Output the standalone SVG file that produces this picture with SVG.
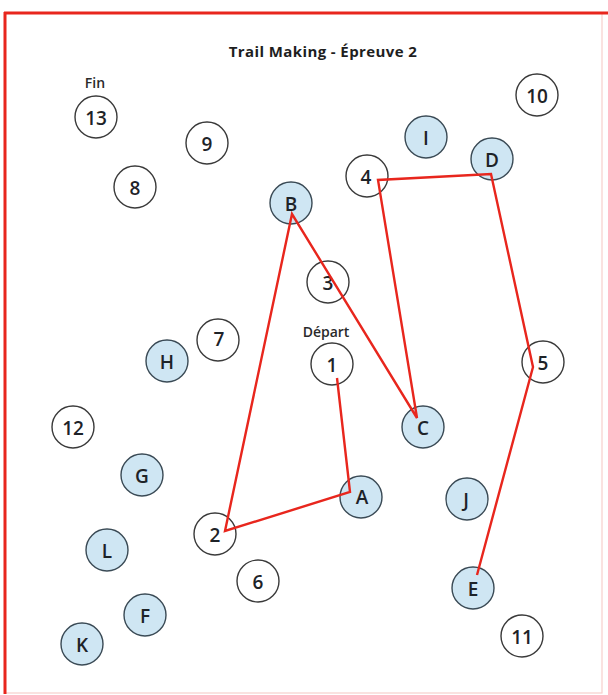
<svg xmlns="http://www.w3.org/2000/svg" width="608" height="695" viewBox="0 0 608 695">
<style>
.n circle{fill:#ffffff;stroke:#3a3a3a;stroke-width:1.4}
.l circle{fill:#cfe6f3;stroke:#3a4a55;stroke-width:1.4}
.n text,.l text{font-family:"Open Sans","Liberation Sans",sans-serif;font-weight:600;font-size:19px;fill:#1e2328;text-anchor:middle;dominant-baseline:central}
.lbl{font-family:"Open Sans","Liberation Sans",sans-serif;font-weight:600;font-size:14px;fill:#2a2a2a;text-anchor:middle}
.title{font-family:"Open Sans","Liberation Sans",sans-serif;font-weight:700;font-size:15px;letter-spacing:0.4px;fill:#1e1e1e;text-anchor:middle}
.trail{fill:none;stroke:#e8261d;stroke-width:2.4;stroke-linejoin:miter}
</style>
<rect x="0" y="0" width="608" height="695" fill="#ffffff"/>
<g id="frame">
<rect x="5" y="13" width="597" height="680" fill="none" stroke="#f7cfcc" stroke-width="1.2"/>
<line x1="4" y1="13" x2="608" y2="13" stroke="#e8261d" stroke-width="3.2"/>
<line x1="5" y1="12" x2="5" y2="694" stroke="#e8261d" stroke-width="3"/>
</g>
<text id="title" class="title" x="323" y="57">Trail Making - Épreuve 2</text>
<text id="fin" class="lbl" x="95" y="88">Fin</text>
<text id="depart" class="lbl" x="326" y="337">Départ</text>
<g id="nodes">
<g id="n13" class="n"><circle cx="96" cy="117" r="21"/><text x="96" y="118">13</text></g>
<g id="n9" class="n"><circle cx="207" cy="143" r="21"/><text x="207" y="144">9</text></g>
<g id="n8" class="n"><circle cx="135" cy="187" r="21"/><text x="135" y="188">8</text></g>
<g id="n10" class="n"><circle cx="537" cy="95" r="21"/><text x="537" y="96">10</text></g>
<g id="nI" class="l"><circle cx="426" cy="137" r="21"/><text x="426" y="138">I</text></g>
<g id="nD" class="l"><circle cx="492" cy="159" r="21"/><text x="492" y="160">D</text></g>
<g id="n4" class="n"><circle cx="367" cy="176" r="21"/><text x="366" y="177">4</text></g>
<g id="nB" class="l"><circle cx="291" cy="203" r="21"/><text x="291" y="204">B</text></g>
<g id="n3" class="n"><circle cx="328" cy="282" r="21"/><text x="328" y="283">3</text></g>
<g id="n7" class="n"><circle cx="218" cy="340" r="21"/><text x="219" y="339">7</text></g>
<g id="nH" class="l"><circle cx="167" cy="361" r="21"/><text x="167" y="362">H</text></g>
<g id="n1" class="n"><circle cx="332" cy="364" r="21"/><text x="332" y="365">1</text></g>
<g id="n5" class="n"><circle cx="543" cy="362" r="21"/><text x="543" y="363">5</text></g>
<g id="nC" class="l"><circle cx="423" cy="427" r="21"/><text x="423" y="428">C</text></g>
<g id="n12" class="n"><circle cx="73" cy="427" r="21"/><text x="73" y="428">12</text></g>
<g id="nG" class="l"><circle cx="142" cy="475" r="21"/><text x="142" y="476">G</text></g>
<g id="nA" class="l"><circle cx="361" cy="497" r="21"/><text x="362" y="497">A</text></g>
<g id="nJ" class="l"><circle cx="467" cy="499" r="21"/><text x="466" y="500">J</text></g>
<g id="n2" class="n"><circle cx="215" cy="534" r="21"/><text x="215" y="535">2</text></g>
<g id="nL" class="l"><circle cx="107" cy="550" r="21"/><text x="107" y="551">L</text></g>
<g id="n6" class="n"><circle cx="258" cy="581" r="21"/><text x="258" y="582">6</text></g>
<g id="nE" class="l"><circle cx="473" cy="588" r="21"/><text x="473" y="589">E</text></g>
<g id="nF" class="l"><circle cx="145" cy="615" r="21"/><text x="145" y="616">F</text></g>
<g id="n11" class="n"><circle cx="522" cy="636" r="21"/><text x="522" y="637">11</text></g>
<g id="nK" class="l"><circle cx="82" cy="644" r="21"/><text x="82" y="645">K</text></g>
</g>
<g id="connectors">
<polyline class="trail" points="337,378 350,492 225,531 292,214 417,418 378,180 491,174 533,367 477,575"/>
</g>
</svg>
